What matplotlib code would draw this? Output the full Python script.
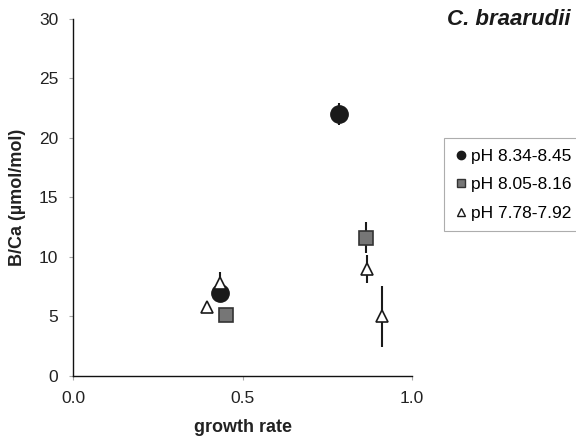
import matplotlib.pyplot as plt
from matplotlib.lines import Line2D

plt.rcParams['font.family'] = ['Liberation Sans', 'DejaVu Sans']

# growth rate, B/Ca and error for each pH group
high_x = [0.433, 0.783]
high_y = [7.0, 22.0]
high_err = [0.0, 0.9]

mid_x = [0.451, 0.863]
mid_y = [5.1, 11.6]
mid_err = [0.0, 1.3]

low_x = [0.395, 0.433, 0.868, 0.912]
low_y = [5.8, 7.8, 9.0, 5.0]
low_err = [0.0, 0.9, 1.2, 2.6]

labels = ["pH 8.34-8.45", "pH 8.05-8.16", "pH 7.78-7.92"]

fig = plt.figure(figsize=(5.76, 4.41), dpi=100)
ax = fig.add_axes([0.1276, 0.1474, 0.5877, 0.8096])

ax.errorbar(high_x, high_y, yerr=high_err, fmt='o', ms=12.5, color='#1a1a1a',
            mec='#1a1a1a', ecolor='#1a1a1a', elinewidth=1.5, capsize=0, zorder=3)
ax.errorbar(mid_x, mid_y, yerr=mid_err, fmt='s', ms=10, mfc='#767676',
            mec='#333333', mew=1.2, ecolor='#1a1a1a', elinewidth=1.5, capsize=0, zorder=4)
ax.errorbar(low_x, low_y, yerr=low_err, fmt='^', ms=8, mfc='white',
            mec='#1a1a1a', mew=1.2, ecolor='#1a1a1a', elinewidth=1.5, capsize=0, zorder=5)

ax.set_xlim(0, 1.0)
ax.set_ylim(0, 30)
ax.set_xticks([0, 0.5, 1.0])
ax.set_xticklabels(["0.0", "0.5", "1.0"])
ax.set_yticks(range(0, 31, 5))
ax.tick_params(labelsize=12.5, length=3, pad=8, direction='out',
               color='#aaaaaa', labelcolor='#222222')
for s in ['top', 'right']:
    ax.spines[s].set_visible(False)
for s in ['left', 'bottom']:
    ax.spines[s].set_linewidth(1.0)
    ax.spines[s].set_color('#111111')

ax.set_xlabel("growth rate", fontsize=13, fontweight='bold', labelpad=9,
              color='#222222')
ax.set_ylabel("B/Ca (\u00b5mol/mol)", fontsize=13, fontweight='bold', labelpad=9,
              color='#222222')

fig.text(0.99, 0.955, "C. braarudii", fontsize=16, fontweight='bold',
         fontstyle='italic', ha='right', va='center', color='#1a1a1a')

handles = [
    Line2D([], [], ls='none', marker='o', ms=6, color='#1a1a1a'),
    Line2D([], [], ls='none', marker='s', ms=6, mfc='#767676', mec='#333333'),
    Line2D([], [], ls='none', marker='^', ms=6, mfc='white', mec='#1a1a1a'),
]
leg = fig.legend(handles, labels, loc='upper left', bbox_to_anchor=(0.771, 0.687),
                 bbox_transform=fig.transFigure, fontsize=12.5, frameon=True,
                 fancybox=False, edgecolor='#999999', handlelength=0.7,
                 handletextpad=0.25, labelspacing=0.78, borderpad=0.6,
                 borderaxespad=0)
leg.get_frame().set_linewidth(0.8)

fig.savefig("out.png", dpi=100)
